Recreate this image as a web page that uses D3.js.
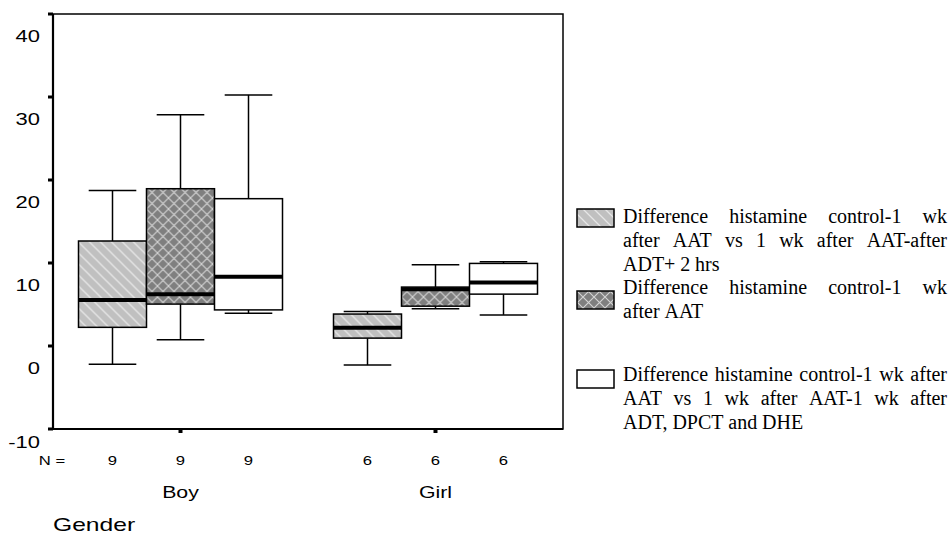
<!DOCTYPE html>
<html>
<head>
<meta charset="utf-8">
<script src="https://cdn.jsdelivr.net/npm/d3@7"></script>
<style>
  body { margin: 0; background: #fff; }
  svg { display: block; }
</style>
</head>
<body>
<svg></svg>
<script>
var width = 950
var height = 536

// data
var genders = ["Boy", "Girl"]
var series = ["s1", "s2", "s3"]
var counts = { Boy: [9, 9, 9], Girl: [6, 6, 6] }
// [min, q1, median, q3, max] per gender, per series
var boyStats = [
  [0.45, 4.9, 8.2, 15.3, 21.4],
  [3.4, 7.7, 8.9, 21.6, 30.5],
  [6.6, 7.0, 11.0, 20.4, 32.9]
]
var girlStats = [
  [0.35, 3.6, 4.85, 6.5, 6.8],
  [7.15, 7.45, 9.5, 9.75, 12.45],
  [6.4, 8.9, 10.3, 12.6, 12.8]
]
var yTicks = [40, 30, 20, 10, 0, -10]
var legendLines = [
  ["Difference histamine control-1 wk", "after AAT vs 1 wk after AAT-after", "ADT+ 2 hrs"],
  ["Difference histamine control-1 wk", "after AAT"],
  ["Difference histamine control-1 wk after", "AAT vs 1 wk after AAT-1 wk after", "ADT, DPCT and DHE"]
]

var svg = d3.select("svg").attr("width", width).attr("height", height)

var frame = { left: 53, right: 563 }
var y = d3.scaleLinear().domain([0, 40]).range([368, 36])
var tickShift = -22  // SPSS puts tick marks above their labels
frame.top = y(40) + tickShift
frame.bottom = y(-10) + tickShift

var x = d3.scaleBand().domain(genders).range([frame.left, frame.right])
var xs = d3.scaleBand().domain(series).range([0, x.bandwidth()]).paddingInner(0).paddingOuter(0.375)

// the sans labels in the picture are drawn wide
var stretch = 1.33
function widen(sel) {
  sel.each(function() {
    var w = this.getComputedTextLength()
    d3.select(this).attr("textLength", w * stretch).attr("lengthAdjust", "spacingAndGlyphs")
  })
}

// fill patterns
var defs = svg.append("defs")
var p1 = defs.append("pattern").attr("id", "hatch").attr("patternUnits", "userSpaceOnUse")
  .attr("width", 11).attr("height", 11)
p1.append("rect").attr("width", 11).attr("height", 11).attr("fill", "#c0c0c0")
p1.append("path").attr("d", "M0,0L11,11M-1,10L1,12M10,-1L12,1")
  .attr("stroke", "#e6e6e6").attr("stroke-width", 1.3)

var p2 = defs.append("pattern").attr("id", "cross").attr("patternUnits", "userSpaceOnUse")
  .attr("width", 11).attr("height", 11)
p2.append("rect").attr("width", 11).attr("height", 11).attr("fill", "#7f7f7f")
p2.append("path").attr("d", "M0,0L11,11M11,0L0,11")
  .attr("stroke", "#d4d4d4").attr("stroke-width", 1.1)

var fills = { s1: "url(#hatch)", s2: "url(#cross)", s3: "#ffffff" }

var boxes = []
genders.forEach(function(g) {
  var stats = g == "Boy" ? boyStats : girlStats
  series.forEach(function(s, i) {
    var d = stats[i]
    boxes.push({ g: g, s: s, n: counts[g][i], min: d[0], q1: d[1], med: d[2], q3: d[3], max: d[4] })
  })
})

var bw = xs.bandwidth()
var capW = bw * 0.7

var bg = svg.selectAll(".box").data(boxes).enter().append("g")
  .attr("class", "box")
  .attr("transform", function(d) { return "translate(" + (x(d.g) + xs(d.s)) + ",0)" })

// whiskers
bg.append("line").attr("x1", bw / 2).attr("x2", bw / 2)
  .attr("y1", function(d) { return y(d.q3) }).attr("y2", function(d) { return y(d.max) })
  .attr("stroke", "#000").attr("stroke-width", 1.5)
bg.append("line").attr("x1", bw / 2).attr("x2", bw / 2)
  .attr("y1", function(d) { return y(d.q1) }).attr("y2", function(d) { return y(d.min) })
  .attr("stroke", "#000").attr("stroke-width", 1.5)
bg.append("line").attr("x1", (bw - capW) / 2).attr("x2", (bw + capW) / 2)
  .attr("y1", function(d) { return y(d.max) }).attr("y2", function(d) { return y(d.max) })
  .attr("stroke", "#000").attr("stroke-width", 1.5)
bg.append("line").attr("x1", (bw - capW) / 2).attr("x2", (bw + capW) / 2)
  .attr("y1", function(d) { return y(d.min) }).attr("y2", function(d) { return y(d.min) })
  .attr("stroke", "#000").attr("stroke-width", 1.5)

bg.append("rect").attr("x", 0).attr("width", bw)
  .attr("y", function(d) { return y(d.q3) })
  .attr("height", function(d) { return y(d.q1) - y(d.q3) })
  .attr("fill", function(d) { return fills[d.s] })
  .attr("stroke", "#000").attr("stroke-width", 1.5)

bg.append("line").attr("x1", 0).attr("x2", bw)
  .attr("y1", function(d) { return y(d.med) }).attr("y2", function(d) { return y(d.med) })
  .attr("stroke", "#000").attr("stroke-width", 4)

// frame
svg.append("rect")
  .attr("x", frame.left).attr("y", frame.top)
  .attr("width", frame.right - frame.left).attr("height", frame.bottom - frame.top)
  .attr("fill", "none").attr("stroke", "#000").attr("stroke-width", 1.5)
svg.append("path")
  .attr("d", "M" + frame.left + "," + frame.top + "V" + frame.bottom + "H" + frame.right)
  .attr("fill", "none").attr("stroke", "#000").attr("stroke-width", 2.2)

var sans = "Liberation Sans, Arial, sans-serif"

// y axis
svg.selectAll(".ytick").data(yTicks).enter().append("rect")
  .attr("x", frame.left - 5).attr("width", 5)
  .attr("y", function(d) { return y(d) + tickShift - 1.5 }).attr("height", 3)
  .attr("fill", "#000")
svg.selectAll(".ylab").data(yTicks).enter().append("text")
  .attr("x", frame.left - 13)
  .attr("y", function(d) { return Math.min(y(d), frame.bottom + 13) })
  .attr("dy", "0.36em")
  .attr("text-anchor", "end")
  .attr("font-family", sans)
  .attr("font-size", 16.5)
  .text(function(d) { return d })
  .call(widen)

// x axis
svg.selectAll(".xtick").data(genders).enter().append("rect")
  .attr("x", function(d) { return x(d) + x.bandwidth() / 2 - 2 }).attr("width", 4)
  .attr("y", frame.bottom).attr("height", 4)
  .attr("fill", "#000")

svg.append("text").attr("x", 52).attr("y", 460).attr("dy", "0.36em")
  .attr("text-anchor", "middle").attr("font-family", sans).attr("font-size", 12.5)
  .text("N =").call(widen)
svg.selectAll(".nlab").data(boxes).enter().append("text")
  .attr("x", function(d) { return x(d.g) + xs(d.s) + bw / 2 })
  .attr("y", 460).attr("dy", "0.36em")
  .attr("text-anchor", "middle").attr("font-family", sans).attr("font-size", 12.5)
  .text(function(d) { return d.n }).call(widen)
svg.selectAll(".glab").data(genders).enter().append("text")
  .attr("x", function(d) { return x(d) + x.bandwidth() / 2 })
  .attr("y", 492).attr("dy", "0.36em")
  .attr("text-anchor", "middle").attr("font-family", sans).attr("font-size", 16)
  .text(function(d) { return d }).call(widen)
svg.append("text").attr("x", 53).attr("y", 531)
  .attr("font-family", sans).attr("font-size", 18.5)
  .text("Gender").call(widen)

// legend
var serif = "Liberation Serif, Times New Roman, serif"
var legX = 577, textX = 623, textR = 947
var itemY = [217, 288, 375]
var swatchY = [209, 291, 370]
var lineH = 24

legendLines.forEach(function(lines, k) {
  svg.append("rect")
    .attr("x", legX).attr("y", swatchY[k])
    .attr("width", 37).attr("height", 18)
    .attr("fill", fills[series[k]])
    .attr("stroke", "#000").attr("stroke-width", 1.5)

  lines.forEach(function(line, j) {
    var by = itemY[k] + j * lineH + 6
    var words = line.split(" ")
    var last = j == lines.length - 1
    var tg = svg.append("g")
    var ws = words.map(function(w) {
      var t = tg.append("text").attr("y", by)
        .attr("font-family", serif).attr("font-size", 20).text(w)
      return { t: t, w: t.node().getComputedTextLength() }
    })
    var total = d3.sum(ws, function(d) { return d.w })
    var space = 4.8
    if (!last && words.length > 1) space = (textR - textX - total) / (words.length - 1)
    var scale = 1
    if (space < 3) {
      space = 3
      scale = (textR - textX - space * (words.length - 1)) / total
    }
    var cx = textX
    ws.forEach(function(d) {
      d.t.attr("x", cx)
      if (scale < 1) d.t.attr("textLength", d.w * scale).attr("lengthAdjust", "spacingAndGlyphs")
      cx += d.w * scale + space
    })
  })
})
</script>
</body>
</html>
